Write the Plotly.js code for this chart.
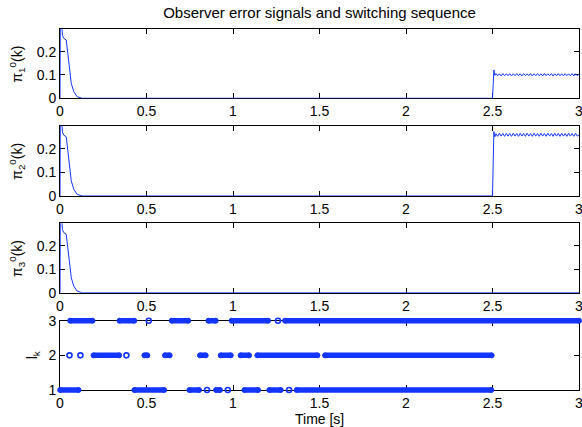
<!DOCTYPE html>
<html><head><meta charset="utf-8">
<script src="https://cdn.plot.ly/plotly-3.0.1.min.js"></script>
<style>html,body{margin:0;padding:0;background:#fff}</style>
</head><body><div id="chart" style="width:582px;height:427px"></div>
<script>
// ---- data ----
// initial transient shared by the three observer error signals
const tStart = [0, 0.003, 0.008, 0.014, 0.022, 0.036, 0.045, 0.055, 0.065, 0.080, 0.099, 0.128];
const eStart = [0, 0.60, 0.35, 0.27, 0.257, 0.25, 0.193, 0.121, 0.064, 0.028, 0.007, 0.0];
// after the fault at t = 2.5 s
const tAfter = [2.5, 2.504, 2.508, 2.513, 2.52, 2.53, 2.54, 2.55, 2.56, 2.57, 2.58, 2.59, 2.60,
  2.61, 2.62, 2.63, 2.64, 2.65, 2.66, 2.67, 2.68, 2.69, 2.70, 2.71, 2.72, 2.73, 2.74, 2.75, 2.76,
  2.77, 2.78, 2.79, 2.80, 2.81, 2.82, 2.83, 2.84, 2.85, 2.86, 2.87, 2.88, 2.89, 2.90, 2.91, 2.92,
  2.93, 2.94, 2.95, 2.96, 2.97, 2.98, 2.99, 3.00];
const e1After = [0, 0.06, 0.121, 0.098, 0.106, 0.097, 0.105, 0.096, 0.106, 0.097, 0.105, 0.097,
  0.106, 0.096, 0.105, 0.097, 0.106, 0.097, 0.105, 0.096, 0.106, 0.097, 0.105, 0.097, 0.106,
  0.096, 0.105, 0.097, 0.106, 0.097, 0.105, 0.096, 0.106, 0.097, 0.105, 0.097, 0.106, 0.096,
  0.105, 0.097, 0.106, 0.097, 0.105, 0.096, 0.106, 0.097, 0.105, 0.097, 0.106, 0.096, 0.105,
  0.097, 0.104];
const e2After = [0, 0.14, 0.272, 0.25, 0.263, 0.252, 0.265, 0.253, 0.264, 0.252, 0.265, 0.253,
  0.264, 0.252, 0.265, 0.253, 0.264, 0.252, 0.265, 0.253, 0.264, 0.252, 0.265, 0.253, 0.264,
  0.252, 0.265, 0.253, 0.264, 0.252, 0.265, 0.253, 0.264, 0.252, 0.265, 0.253, 0.264, 0.252,
  0.265, 0.253, 0.264, 0.252, 0.265, 0.253, 0.264, 0.252, 0.265, 0.253, 0.264, 0.252, 0.265,
  0.253, 0.258];
const t3After = [2.5, 3.0];
const e3After = [0, 0];

// switching sequence l_k : runs [start, end] and isolated samples for each index
const l3Start = [0.059, 0.344, 0.646, 0.858, 0.992, 1.301];
const l3End   = [0.188, 0.429, 0.741, 0.900, 1.203, 3.000];
const l3Single = [0.513, 1.260];
const l2Start = [0.194, 0.488, 0.607, 0.809, 0.929, 1.044, 1.141, 1.532];
const l2End   = [0.342, 0.505, 0.634, 0.842, 0.987, 1.093, 1.488, 2.495];
const l2Single = [0.055, 0.118, 0.384];
const l1Start = [0.001, 0.430, 0.748, 0.902, 1.066, 1.210, 1.368];
const l1End   = [0.107, 0.602, 0.804, 0.925, 1.145, 1.276, 2.493];
const l1Single = [0.850, 0.970, 1.324];

const xTicks = [0, 0.5, 1, 1.5, 2, 2.5, 3];
const xTickText = ['0', '0.5', '1', '1.5', '2', '2.5', '3'];
const eTicks = [0, 0.1, 0.2];
const eTickText = ['0', '0.1', '0.2'];
const lTicks = [1, 2, 3];
const lTickText = ['1', '2', '3'];

// ---- drawing ----
const BLUE = '#1434ff';
const FONT = 'Liberation Sans, Arial, Helvetica, sans-serif';

function curve(t, e, xa, ya) {
  return {x: t, y: e, xaxis: xa, yaxis: ya, type: 'scatter', mode: 'lines',
          line: {color: BLUE, width: 1}, hoverinfo: 'skip', showlegend: false};
}
function runs(starts, ends, level) {
  const x = [], y = [];
  for (let i = 0; i < starts.length; i++) {
    x.push(starts[i], ends[i], null);
    y.push(level, level, null);
  }
  return {x: x, y: y, xaxis: 'x4', yaxis: 'y5', type: 'scatter', mode: 'lines+markers',
          line: {color: BLUE, width: 5.5},
          marker: {symbol: 'circle', size: 5, color: BLUE, line: {color: BLUE, width: 1}},
          cliponaxis: false, hoverinfo: 'skip', showlegend: false};
}
function singles(ts, level) {
  return {x: ts, y: ts.map(() => level), xaxis: 'x4', yaxis: 'y5', type: 'scatter', mode: 'markers',
          marker: {symbol: 'circle-open', size: 5, color: BLUE, line: {color: BLUE, width: 1.6}},
          cliponaxis: false, hoverinfo: 'skip', showlegend: false};
}

const data = [
  curve(tStart.concat(tAfter), eStart.concat(e1After), 'x', 'y'),
  curve(tStart.concat(tAfter), eStart.concat(e2After), 'x2', 'y2'),
  curve(tStart.concat(t3After), eStart.concat(e3After), 'x3', 'y3'),
  {x: [], y: [], xaxis: 'x4', yaxis: 'y4', type: 'scatter', mode: 'lines', hoverinfo: 'skip', showlegend: false},
  runs(l1Start, l1End, 1), runs(l2Start, l2End, 2), runs(l3Start, l3End, 3),
  singles(l1Single, 1), singles(l2Single, 2), singles(l3Single, 3)
];

const dom = [[0.8101, 1.0], [0.5425, 0.7351], [0.2775, 0.4677], [0.01096, 0.2008]];
const ext = 0.01096;
const span4 = dom[3][1] - dom[3][0];
const rExt = ext * 2 / span4;

const base = {showline: true, linecolor: '#000', linewidth: 1, mirror: 'ticks', ticks: 'inside',
  ticklen: 5, tickwidth: 1, tickcolor: '#000', showgrid: false, zeroline: false,
  ticklabeloverflow: 'allow',
  tickfont: {family: FONT, size: 14, color: '#000'}, layer: 'below traces', fixedrange: true};

const layout = {
  width: 582, height: 427,
  margin: {l: 60, r: 3, t: 29, b: 33},
  paper_bgcolor: '#fff', plot_bgcolor: 'rgba(0,0,0,0)',
  font: {family: FONT, size: 14, color: '#000'},
  title: {text: 'Observer error signals and switching sequence', x: 0.5, xref: 'paper',
          xanchor: 'center', y: 1 - 12.5 / 427, yref: 'container', yanchor: 'middle',
          font: {family: FONT, size: 15, color: '#000'}},
  annotations: [],
  showlegend: false
};
const yLabels = ['π<sub>1</sub><sup>0</sup>(k)', 'π<sub>2</sub><sup>0</sup>(k)', 'π<sub>3</sub><sup>0</sup>(k)'];
for (let i = 0; i < 4; i++) {
  const s = i === 0 ? '' : String(i + 1);
  layout['xaxis' + s] = Object.assign({}, base, {domain: [0, 1], range: [0, 3], anchor: 'y' + s,
    tickmode: 'array', tickvals: xTicks, ticktext: xTickText});
  if (i < 3) {
    layout['yaxis' + s] = Object.assign({}, base, {domain: dom[i], range: [0, 0.297], anchor: 'x' + s,
      tickmode: 'array', tickvals: eTicks, ticktext: eTickText});
    layout.annotations.push({text: yLabels[i], xref: 'paper', yref: 'paper', x: -0.083,
      y: (dom[i][0] + dom[i][1]) / 2, xanchor: 'center', yanchor: 'middle', textangle: -90,
      showarrow: false, font: {family: FONT, size: 14, color: '#000'}});
  } else {
    layout['yaxis' + s] = Object.assign({}, base, {domain: dom[i], range: [1, 3], anchor: 'x' + s,
      tickmode: 'array', tickvals: lTicks, ticktext: lTickText});
  }
}
layout.yaxis5 = {domain: [dom[3][0] - ext, dom[3][1] + ext], range: [1 - rExt, 3 + rExt],
  anchor: 'free', position: 0, visible: false, fixedrange: true};
layout.annotations.push({text: 'l<sub>k</sub>', xref: 'paper', yref: 'paper', x: (33 - 60) / 519,
  y: (dom[3][0] + dom[3][1]) / 2, xanchor: 'center', yanchor: 'middle', textangle: -90,
  showarrow: false, font: {family: FONT, size: 14, color: '#000'}});
layout.annotations.push({text: 'Time [s]', xref: 'paper', yref: 'paper', x: 0.5,
  y: (394 - 419) / 365, xanchor: 'center', yanchor: 'middle', showarrow: false,
  font: {family: FONT, size: 14, color: '#000'}});

Plotly.newPlot('chart', data, layout, {staticPlot: true, displayModeBar: false});
</script>
</body></html>
